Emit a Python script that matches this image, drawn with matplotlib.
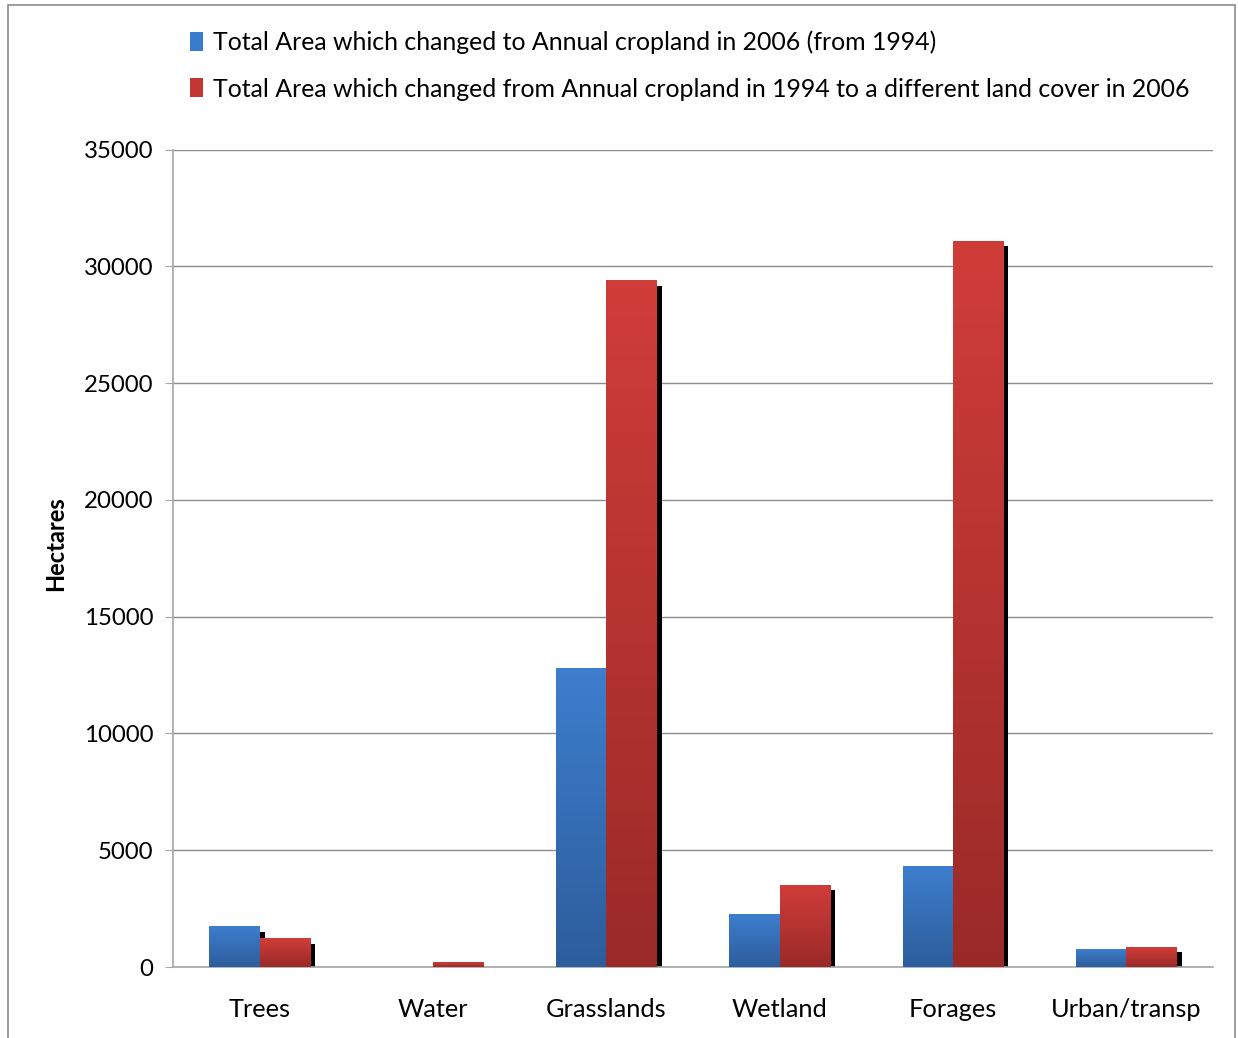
import numpy as np
import matplotlib
matplotlib.use("Agg")
import matplotlib.pyplot as plt
from matplotlib.colors import LinearSegmentedColormap
from matplotlib.patches import Patch, Rectangle
from matplotlib.transforms import ScaledTranslation

categories = ["Trees", "Water", "Grasslands", "Wetland", "Forages", "Urban/transp"]
to_cropland = [1725, 0, 12760, 2230, 4295, 770]
from_cropland = [1200, 180, 29380, 3510, 31080, 856]
series_labels = [
    "Total Area which changed to Annual cropland in 2006 (from 1994)",
    "Total Area which changed from Annual cropland in 1994 to a different land cover in 2006",
]
y_ticks = [0, 5000, 10000, 15000, 20000, 25000, 30000, 35000]

W, H = 1238, 1038
fig = plt.figure(figsize=(W / 100, H / 100), dpi=100)
ax = fig.add_axes([173 / W, 1 - 967 / H, (1213 - 173) / W, (967 - 149.5) / H])

font = "Lato"
plt.rcParams["font.family"] = [font, "DejaVu Sans"]

blue_cmap = LinearSegmentedColormap.from_list("b", ["#2d5d9b", "#3d7ece"])
red_cmap = LinearSegmentedColormap.from_list("r", ["#9a2a28", "#d03d39"])
grad = np.linspace(0, 1, 256).reshape(-1, 1)

x = np.arange(len(categories))
bw = 0.29

# drop shadows offset 5 px right and down, drawn behind the bars
shadow = ax.transData + ScaledTranslation(5 / 100, -5 / 100, fig.dpi_scale_trans)
for vals, off in ((to_cropland, -bw / 2), (from_cropland, bw / 2)):
    sh = ax.bar(x + off, vals, bw, color="black", zorder=2, linewidth=0)
    for p in sh:
        p.set_transform(shadow)

# vertical gradient fill for each bar
for vals, off, cmap in ((to_cropland, -bw / 2, blue_cmap), (from_cropland, bw / 2, red_cmap)):
    bars = ax.bar(x + off, vals, bw, color="none", linewidth=0, zorder=3)
    for p in bars:
        h = p.get_height()
        if h <= 0:
            continue
        x0 = p.get_x()
        ax.imshow(grad, extent=[x0, x0 + p.get_width(), 0, h], origin="lower",
                  aspect="auto", cmap=cmap, zorder=3, interpolation="bilinear")

ax.set_xlim(-0.5, len(categories) - 0.5)
ax.set_ylim(0, 35000)
ax.set_yticks(y_ticks)
ax.set_yticklabels([str(v) for v in y_ticks], fontsize=17.3, family=font)
ax.set_xticks(x)
ax.set_xticklabels(categories, fontsize=18.3, family=font)
ax.tick_params(axis="x", length=0, pad=22)
ax.tick_params(axis="y", length=6, color="#a6a6a6", pad=8)
ax.grid(axis="y", color="#8c8c8c", linewidth=1, zorder=1)
ax.set_axisbelow(True)
for s in ("top", "right"):
    ax.spines[s].set_visible(False)
for s in ("left", "bottom"):
    ax.spines[s].set_color("#a6a6a6")
    ax.spines[s].set_linewidth(1.2)
ax.set_ylabel("Hectares", fontsize=17, fontweight="bold", family=font)
ax.yaxis.set_label_coords(-0.102, 0.518)

handles = [Patch(facecolor="#3b7bcb", edgecolor="none"), Patch(facecolor="#c23633", edgecolor="none")]
fig.legend(handles, series_labels, loc="upper left", bbox_to_anchor=(168 / W, 1 - 8 / H),
           frameon=False, handlelength=0.5, handleheight=0.8,
           handletextpad=0.4, labelspacing=0.95, prop={"family": font, "size": 17.9})

fig.patches.append(Rectangle((8 / W, -0.05), (1235 - 8) / W, 1.05 - 5 / H,
                             transform=fig.transFigure, fill=False,
                             edgecolor="#8c8c8c", linewidth=1.2))

fig.savefig("out.png", dpi=100)
